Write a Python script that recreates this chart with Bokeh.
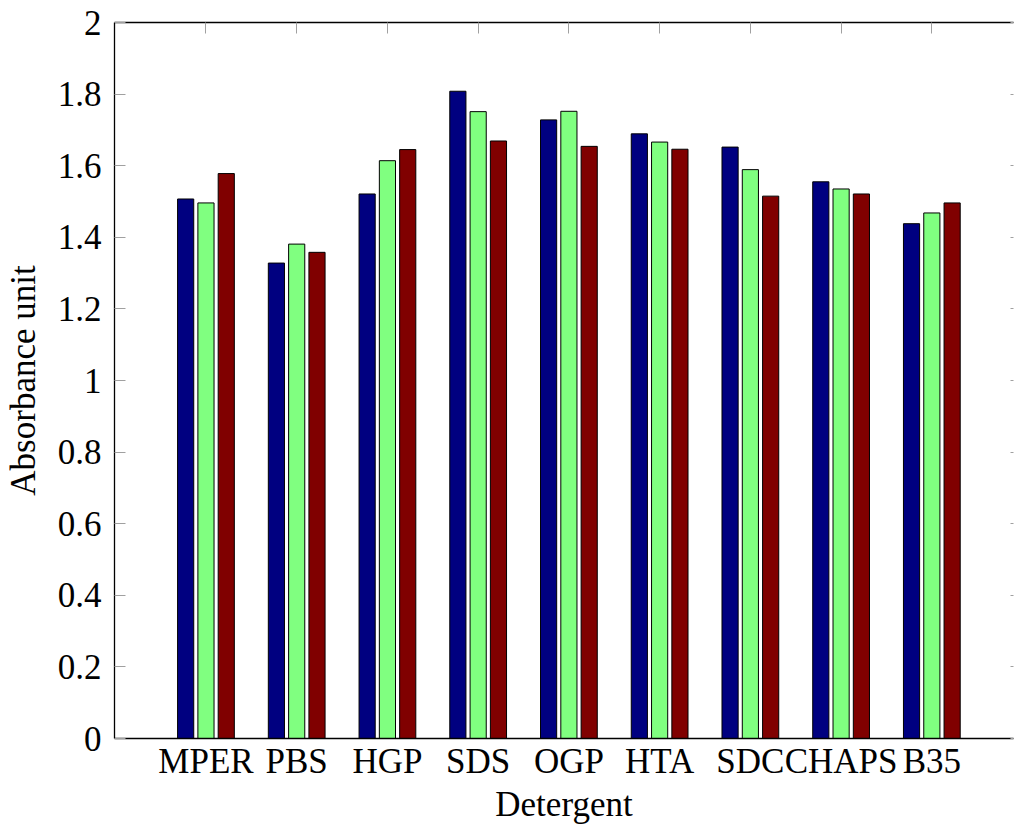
from bokeh.plotting import figure
from bokeh.models import FixedTicker, LinearAxis, Range1d, ColumnDataSource
from bokeh.embed import file_html
from bokeh.resources import INLINE

categories = ["MPER", "PBS", "HGP", "SDS", "OGP", "HTA", "SDC", "CHAPS", "B35"]
series1 = [1.507, 1.328, 1.521, 1.808, 1.728, 1.689, 1.652, 1.555, 1.438]
series2 = [1.496, 1.381, 1.614, 1.751, 1.752, 1.666, 1.589, 1.535, 1.468]
series3 = [1.578, 1.358, 1.645, 1.669, 1.654, 1.646, 1.515, 1.521, 1.496]
y_ticks = [0, 0.2, 0.4, 0.6, 0.8, 1, 1.2, 1.4, 1.6, 1.8, 2]
y_tick_labels = ["0", "0.2", "0.4", "0.6", "0.8", "1", "1.2", "1.4", "1.6", "1.8", "2"]
colors = ["#000080", "#80ff80", "#800000"]

FONT = "Liberation Serif"
FS = "35px"

idx = list(range(len(categories)))
offset = 0.2237
bar_w = 0.178

p = figure(frame_width=899, frame_height=716,
           min_border_left=107, min_border_top=22, min_border_right=1, min_border_bottom=82,
           x_range=Range1d(-1.008, 8.9), y_range=Range1d(0, 2),
           output_backend="svg", toolbar_location=None,
           x_axis_location="below", y_axis_location="left")
p.outline_line_color = None
p.xgrid.visible = False
p.ygrid.visible = False
p.background_fill_color = "white"
p.border_fill_color = "white"

for k, (vals, col) in enumerate(zip([series1, series2, series3], colors)):
    src = ColumnDataSource(dict(x=[i + (k - 1) * offset for i in idx], top=vals))
    p.vbar(x="x", top="top", bottom=0, width=bar_w, source=src,
           fill_color=col, line_color="black", line_width=1)

# y axis
ya = p.yaxis[0]
ya.ticker = FixedTicker(ticks=y_ticks)
ya.major_label_overrides = {t: l for t, l in zip(y_ticks, y_tick_labels)}
ya.major_tick_in = 11
ya.major_tick_out = 0
ya.minor_tick_in = 0
ya.minor_tick_out = 0
ya.major_tick_line_color = "#a0a0a0"
ya.axis_line_color = "black"
ya.axis_line_width = 1.3
ya.major_label_text_font = FONT
ya.major_label_text_font_size = FS
ya.major_label_text_color = "black"
ya.major_label_standoff = 13
ya.axis_label = "Absorbance unit"
ya.axis_label_text_font = FONT
ya.axis_label_text_font_size = FS
ya.axis_label_text_font_style = "normal"
ya.axis_label_text_color = "black"
ya.axis_label_standoff = 12

# x axis
xa = p.xaxis[0]
xa.ticker = FixedTicker(ticks=idx)
xa.major_label_overrides = {i: c for i, c in zip(idx, categories)}
xa.major_tick_in = 0
xa.major_tick_out = 0
xa.minor_tick_in = 0
xa.minor_tick_out = 0
xa.axis_line_color = "black"
xa.axis_line_width = 1.3
xa.major_label_text_font = FONT
xa.major_label_text_font_size = FS
xa.major_label_text_color = "black"
xa.major_label_standoff = 3
xa.axis_label = "Detergent"
xa.axis_label_text_font = FONT
xa.axis_label_text_font_size = FS
xa.axis_label_text_font_style = "normal"
xa.axis_label_text_color = "black"
xa.axis_label_standoff = 1

# top axis (ticks only)
ta = LinearAxis(ticker=FixedTicker(ticks=idx), major_tick_in=11, major_tick_out=0,
                minor_tick_in=0, minor_tick_out=0, major_tick_line_color="#a0a0a0",
                axis_line_color="black", axis_line_width=1.3,
                major_label_text_color=None, major_label_text_font_size="1px",
                major_label_standoff=0)
p.add_layout(ta, "above")

# right axis (tick stubs only, frame continues beyond the visible area)
ra = LinearAxis(ticker=FixedTicker(ticks=y_ticks), major_tick_in=3, major_tick_out=0,
                minor_tick_in=0, minor_tick_out=0, major_tick_line_color="#a0a0a0",
                axis_line_color=None, major_label_text_color=None,
                major_label_text_font_size="1px", major_label_standoff=0)
p.add_layout(ra, "right")

open("out.html", "w").write(file_html(p, INLINE))
